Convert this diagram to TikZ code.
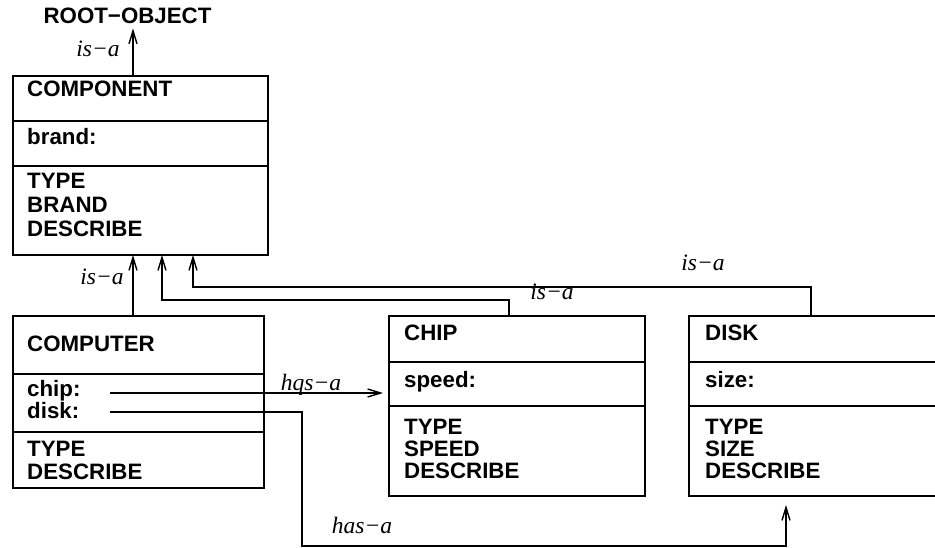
\documentclass[tikz,border=0pt]{standalone}
\usepackage{fontspec}
\setmainfont{Liberation Sans}
\newfontfamily\labelfont{Liberation Serif}
\usetikzlibrary{arrows.meta}
\begin{document}
\begin{tikzpicture}[x=1pt,y=-1pt,
  box/.style={draw, line width=1.6pt, rectangle, inner sep=0pt, outer sep=0pt},
  divider/.style={line width=1.6pt},
  txt/.style={anchor=base west, inner sep=0pt, font=\fontsize{22.3}{24}\selectfont\bfseries},
  rel/.style={anchor=base, inner sep=0pt, font=\labelfont\fontsize{23.5}{24}\selectfont\itshape},
  conn/.style={line width=1.3pt},
  arr/.style={conn, -{Straight Barb[length=13pt,width=8pt,line width=1.4pt]}}]
\useasboundingbox (0,0) rectangle (935,548);

% boxes
\node[box, minimum width=255pt, minimum height=179pt] (comp) at (140.5,165.5) {};
\node[box, minimum width=251pt, minimum height=172pt] (computer) at (138.5,402) {};
\node[box, minimum width=256pt, minimum height=180pt] (chip) at (517,406) {};
\node[box, minimum width=256pt, minimum height=180pt] (disk) at (817,406) {};

% dividers
\draw[divider] (13,121) -- (268,121);
\draw[divider] (13,166) -- (268,166);
\draw[divider] (13,374) -- (264,374);
\draw[divider] (13,432) -- (264,432);
\draw[divider] (389,362) -- (645,362);
\draw[divider] (389,406) -- (645,406);
\draw[divider] (689,362) -- (945,362);
\draw[divider] (689,406) -- (945,406);

% texts
\node[txt, anchor=base] (root) at (127.5,24) {ROOT−OBJECT};

\node[txt] (compT) at (27,97) {COMPONENT};
\node[txt] (compA) at (27,145) {brand:};
\node[txt] (compM1) at (27,189) {TYPE};
\node[txt] (compM2) at (27,213) {BRAND};
\node[txt] (compM3) at (27,237) {DESCRIBE};

\node[txt] (cmpT) at (27,351) {COMPUTER};
\node[txt] (cmpA1) at (27,396) {chip:};
\node[txt] (cmpA2) at (27,418.5) {disk:};
\node[txt] (cmpM1) at (27,456) {TYPE};
\node[txt] (cmpM2) at (27,479) {DESCRIBE};

\node[txt] (chipT) at (404,341) {CHIP};
\node[txt] (chipA) at (404,387) {speed:};
\node[txt] (chipM1) at (404,434) {TYPE};
\node[txt] (chipM2) at (404,456) {SPEED};
\node[txt] (chipM3) at (404,478) {DESCRIBE};

\node[txt] (diskT) at (705,341) {DISK};
\node[txt] (diskA) at (705,387) {size:};
\node[txt] (diskM1) at (705,434) {TYPE};
\node[txt] (diskM2) at (705,456) {SIZE};
\node[txt] (diskM3) at (705,478) {DESCRIBE};

% relation labels
\node[rel] (l1) at (98,57) {is−a};
\node[rel] (l2) at (102,285) {is−a};
\node[rel] (l3) at (552,300) {is−a};
\node[rel] (l4) at (703,271) {is−a};
\node[rel] (l5) at (311,390) {hqs−a};
\node[rel] (l6) at (362,533) {has−a};

% helper coordinates
\coordinate (xa) at (133,0);
\coordinate (xb) at (162,0);
\coordinate (xc) at (193,0);
\coordinate (xchip) at (509,0);
\coordinate (xdisk) at (811,0);
\coordinate (xh) at (786,0);
\coordinate (cs) at (110,393);
\coordinate (ds) at (110,412);
\coordinate (dcorner) at (302,546);

% connectors
\draw[arr, shorten >=4pt] (comp.north -| xa) -- (root.south -| xa);
\draw[arr] (computer.north -| xa) -- (comp.south -| xa);
\draw[arr] (chip.north -| xchip) -- ++(0,-16) -| (comp.south -| xb);
\draw[arr] (disk.north -| xdisk) -- ++(0,-29) -| (comp.south -| xc);
\draw[arr, shorten >=6pt] (cs) -- (chip.west |- cs);
\draw[arr, shorten >=9pt] (ds) -| (dcorner) -| (disk.south -| xh);
\end{tikzpicture}
\end{document}
